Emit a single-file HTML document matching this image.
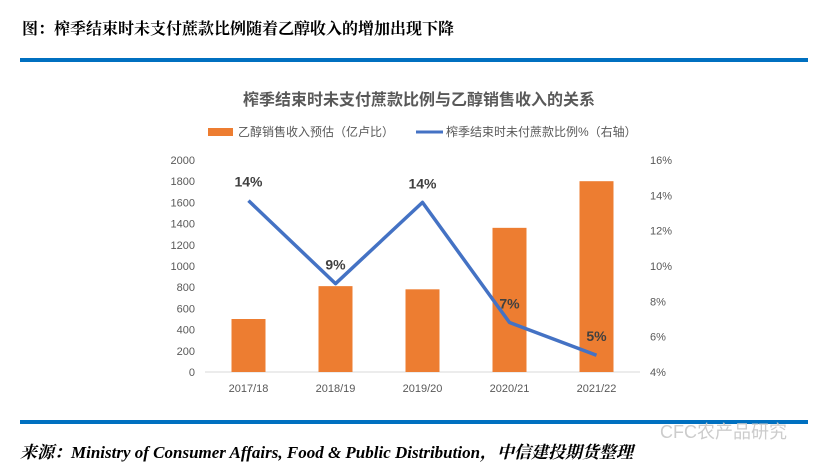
<!DOCTYPE html>
<html><head><meta charset="utf-8"><style>
body{margin:0;width:826px;height:466px;background:#fff;overflow:hidden;position:relative;font-family:"Liberation Sans","Noto Sans CJK SC",sans-serif}
.hdr{position:absolute;left:22px;top:16px;font-size:16px;font-weight:bold;color:#000;font-family:"Liberation Serif","Noto Serif CJK SC",serif}
.line{position:absolute;left:20px;width:788px;height:4px;background:#0070c0}
.src{position:absolute;left:20px;top:438px;font-size:17px;font-weight:bold;font-style:italic;font-family:"Liberation Serif","Noto Serif CJK SC",serif}
.wm{position:absolute;left:660px;top:418px;font-size:18px;color:#ccc}
</style></head><body>
<div class="hdr">图：榨季结束时未支付蔗款比例随着乙醇收入的增加出现下降</div>
<div class="line" style="top:58px"></div>
<div class="line" style="top:420px"></div>
<div class="wm">CFC农产品研究</div>
<div class="src">来源：Ministry of Consumer Affairs, Food &amp; Public Distribution，中信建投期货整理</div>
<svg id="chart" width="826" height="466" style="position:absolute;left:0;top:0">
<text x="419" y="105" text-anchor="middle" font-size="16" font-weight="bold" fill="#595959">榨季结束时未支付蔗款比例与乙醇销售收入的关系</text>
<rect x="208" y="128" width="25" height="8" fill="#ed7d31"/>
<text x="238" y="136" font-size="12" fill="#595959">乙醇销售收入预估（亿卢比）</text>
<line x1="416" y1="132" x2="443" y2="132" stroke="#4472c4" stroke-width="3"/>
<text x="446" y="136" font-size="12" fill="#595959">榨季结束时未付蔗款比例%（右轴）</text>
<line x1="205" y1="372" x2="640" y2="372" stroke="#d9d9d9"/>
<g id="g"></g>
</svg>
<script>
const categories=["2017/18","2018/19","2019/20","2020/21","2021/22"];
const revenue=[500,810,780,1360,1800];
const unpaid=[13.7,9.0,13.6,6.8,4.95];
const unpaidLabels=["14%","9%","14%","7%","5%"];
const leftTicks=[0,200,400,600,800,1000,1200,1400,1600,1800,2000];
const rightTicks=[4,6,8,10,12,14,16];
const NS="http://www.w3.org/2000/svg",g=document.getElementById('g');
const x0=205,x1=640,yb=372,yt=160;
const xs=i=>x0+(x1-x0)/categories.length*(i+0.5);
const yl=v=>yb-(yb-yt)*v/2000;
const yr=v=>yb-(yb-yt)*(v-4)/12;
function mk(t,a){const e=document.createElementNS(NS,t);for(const k in a)e.setAttribute(k,a[k]);g.appendChild(e);return e;}
leftTicks.forEach(v=>{const e=mk('text',{x:195,y:yl(v)+4,'text-anchor':'end','font-size':11,fill:'#595959'});e.textContent=v;

});
rightTicks.forEach(v=>{const e=mk('text',{x:650,y:yr(v)+4,'font-size':11,fill:'#595959'});e.textContent=v+'%';

});
categories.forEach((c,i)=>{const e=mk('text',{x:xs(i),y:yb+20,'text-anchor':'middle','font-size':11,fill:'#595959'});e.textContent=c;

});
revenue.forEach((v,i)=>{const e=mk('rect',{x:xs(i)-17,y:yl(v),width:34,height:yb-yl(v),fill:'#ed7d31'});

});
const pl=mk('polyline',{points:unpaid.map((v,i)=>xs(i)+','+yr(v)).join(' '),fill:'none',stroke:'#4472c4','stroke-width':3.5,'stroke-linejoin':'round'});


unpaid.forEach((v,i)=>{const e=mk('text',{x:xs(i),y:yr(v)-14,'text-anchor':'middle','font-size':14,'font-weight':'bold',fill:'#404040'});e.textContent=unpaidLabels[i];

});
</script>
</body></html>
